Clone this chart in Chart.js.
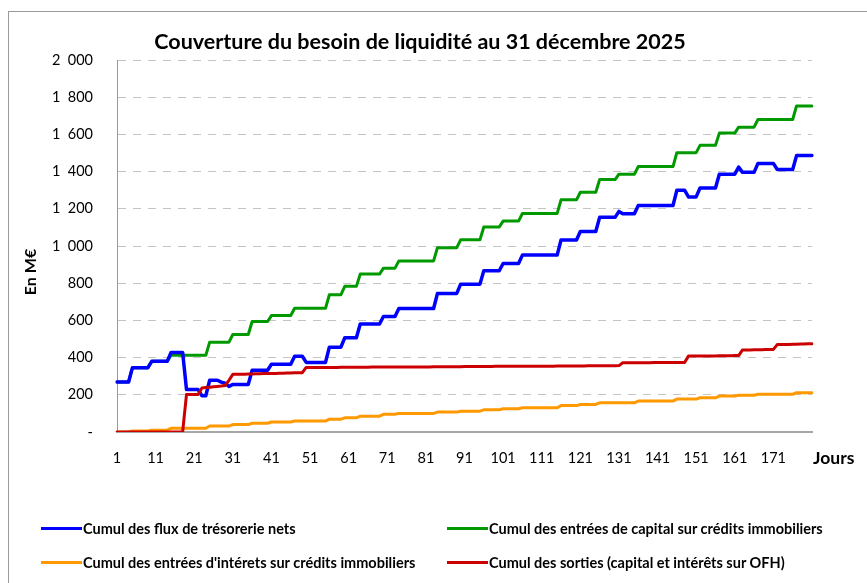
<!DOCTYPE html>
<html>
<head>
<meta charset="utf-8">
<script src="https://cdn.jsdelivr.net/npm/chart.js@4.4.1/dist/chart.umd.min.js"></script>
<style>
  html, body { margin: 0; padding: 0; background: #fff; }
  #wrap { position: relative; width: 867px; height: 583px; }
  #legend { position: absolute; left: 0; top: 0; width: 867px; height: 583px; pointer-events: none;
            font: bold 14.5px Lato, sans-serif; color: #000; }
  .item { position: absolute; height: 20px; display: flex; align-items: center; white-space: nowrap; }
  .swatch { display: inline-block; width: 41px; height: 3px; margin-right: 1px; }
</style>
</head>
<body>
<div id="wrap">
  <canvas id="lineChart" width="867" height="583"></canvas>
  <div id="legend"></div>
</div>
<script>
// jours 1..181
const days = Array.from({ length: 181 }, (_, i) => i + 1);
const shownDays = [1, 11, 21, 31, 41, 51, 61, 71, 81, 91, 101, 111, 121, 131, 141, 151, 161, 171];

const seriesNames = [
  'Cumul des flux de trésorerie nets',
  'Cumul des entrées de capital sur crédits immobiliers',
  "Cumul des entrées d'intérets sur crédits immobiliers",
  'Cumul des sorties (capital et intérêts sur OFH)'
];
const seriesColors = ['#0000ff', '#009900', '#ff9900', '#cc0000'];

// valeurs (M€), un point par jour
const fluxNets = [
  269,269,269,269,346,346,346,346,346,380,
  380,380,380,380,428,428,428,428,228,228,
  228,228,195,195,278,278,278,268,262,245,
  256,256,256,256,256,332,332,332,332,332,
  364,364,364,364,364,364,407,407,407,374,
  374,374,374,374,374,456,456,456,456,507,
  507,507,507,581,581,581,581,581,581,621,
  621,621,621,664,664,664,664,664,664,664,
  664,664,664,745,745,745,745,745,745,795,
  795,795,795,795,795,867,867,867,867,867,
  906,906,906,906,906,951,951,951,951,951,
  951,951,951,951,951,1032,1032,1032,1032,1032,
  1078,1078,1078,1078,1078,1154,1154,1154,1154,1154,
  1186,1173,1173,1173,1173,1218,1218,1218,1218,1218,
  1218,1218,1218,1218,1218,1300,1300,1300,1264,1264,
  1264,1312,1312,1312,1312,1312,1386,1386,1386,1386,
  1386,1424,1396,1396,1396,1396,1444,1444,1444,1444,
  1444,1411,1411,1411,1411,1411,1486,1486,1486,1486,
  1486
];
const entreesCapital = [
  269,269,269,269,346,346,346,346,346,380,
  380,380,380,380,412,412,412,412,412,412,
  412,412,412,412,483,483,483,483,483,483,
  524,524,524,524,524,594,594,594,594,594,
  626,626,626,626,626,626,665,665,665,665,
  665,665,665,665,665,738,738,738,738,783,
  783,783,783,849,849,849,849,849,849,881,
  881,881,881,920,920,920,920,920,920,920,
  920,920,920,991,991,991,991,991,991,1033,
  1033,1033,1033,1033,1033,1102,1102,1102,1102,1102,
  1134,1134,1134,1134,1134,1175,1175,1175,1175,1175,
  1175,1175,1175,1175,1175,1248,1248,1248,1248,1248,
  1289,1289,1289,1289,1289,1357,1357,1357,1357,1357,
  1386,1386,1386,1386,1386,1427,1427,1427,1427,1427,
  1427,1427,1427,1427,1427,1502,1502,1502,1502,1502,
  1502,1541,1541,1541,1541,1541,1607,1607,1607,1607,
  1607,1639,1639,1639,1639,1639,1680,1680,1680,1680,
  1680,1680,1680,1680,1680,1680,1753,1753,1753,1753,
  1753
];
const entreesInterets = [
  0,0,0,0,5,5,5,5,5,10,
  10,10,10,10,20,20,20,20,20,20,
  20,20,20,20,32,32,32,32,32,32,
  40,40,40,40,40,47,47,47,47,47,
  54,54,54,54,54,54,59,59,59,59,
  59,59,59,59,59,69,69,69,69,76,
  76,76,76,85,85,85,85,85,85,95,
  95,95,95,100,100,100,100,100,100,100,
  100,100,100,107,107,107,107,107,107,112,
  112,112,112,112,112,119,119,119,119,119,
  125,125,125,125,125,130,130,130,130,130,
  130,130,130,130,130,142,142,142,142,142,
  148,148,148,148,148,157,157,157,157,157,
  157,157,157,157,157,166,166,166,166,166,
  166,166,166,166,166,177,177,177,177,177,
  177,184,184,184,184,184,193,193,193,193,
  193,198,198,198,198,198,203,203,203,203,
  203,203,203,203,203,203,211,211,211,211,
  211
];
const sorties = [
  0,0,0,0,0,0,0,0,0,0,
  0,0,0,0,0,0,0,0,202,202,
  202,202,237,239,241,243,245,247,250,278,
  310,310,311,311,312,312,313,313,314,314,
  315,315,316,316,317,317,318,318,319,347,
  347,347,347,347,347,347,347,347,348,348,
  348,348,348,348,348,348,349,349,349,349,
  349,349,349,349,350,350,350,350,350,350,
  350,350,351,351,351,351,351,351,351,351,
  352,352,352,352,352,352,352,352,353,353,
  353,353,353,353,353,353,354,354,354,354,
  354,354,354,354,355,355,355,355,355,355,
  355,355,356,356,356,356,356,356,356,356,
  357,372,372,372,372,372,372,372,372,373,
  373,373,373,373,373,373,373,374,408,408,
  408,408,409,409,409,409,410,410,410,410,
  411,411,441,441,441,442,442,442,443,443,
  444,470,470,471,471,472,472,473,473,474,
  474
];

const seriesValues = [fluxNets, entreesCapital, entreesInterets, sorties];
const seriesWidths = [3.5, 3, 3, 3];
const seriesOrder = [1, 2, 3, 0];

function fmtMillions(v) {
  if (v === 0) return '-';
  if (v >= 1000) return Math.floor(v / 1000) + '\u2002' + String(v % 1000).padStart(3, '0');
  return String(v);
}

const chartFrame = {
  id: 'chartFrame',
  beforeDraw(chart) {
    const ctx = chart.ctx;
    ctx.save();
    ctx.fillStyle = '#fff';
    ctx.fillRect(0, 0, chart.width, chart.height);
    ctx.strokeStyle = '#9a9a9a';
    ctx.lineWidth = 1;
    ctx.strokeRect(8.5, 11.5, 1000, 1000);
    ctx.restore();
  },
  afterDraw(chart) {
    const ctx = chart.ctx;
    const area = chart.chartArea;
    ctx.save();
    ctx.fillStyle = '#000';
    ctx.textBaseline = 'middle';
    // titre de l'axe des x, à droite des étiquettes
    ctx.font = 'bold 17.5px Lato, sans-serif';
    ctx.textAlign = 'left';
    ctx.fillText('Jours', area.right + 1, area.bottom + 26);
    // titre de l'axe des y
    ctx.font = 'bold 16px Lato, sans-serif';
    ctx.textAlign = 'center';
    ctx.translate(31, 272);
    ctx.rotate(-Math.PI / 2);
    ctx.fillText('En M€', 0, 0);
    ctx.restore();
  }
};

const lineChart = document.getElementById('lineChart');

const configLine = {
  type: 'line',
  data: {
    labels: days,
    datasets: seriesNames.map((name, i) => ({
      label: name,
      data: seriesValues[i],
      borderColor: seriesColors[i],
      backgroundColor: seriesColors[i],
      borderWidth: seriesWidths[i],
      order: seriesOrder[i],
      pointRadius: 0,
      tension: 0,
      borderJoinStyle: 'round',
      borderCapStyle: 'round',
      fill: false
    }))
  },
  options: {
    responsive: false,
    animation: false,
    events: [],
    layout: { padding: { left: 0, right: 27, top: 0, bottom: 111 } },
    plugins: {
      legend: { display: false },
      tooltip: { enabled: false },
      title: {
        display: true,
        text: 'Couverture du besoin de liquidité au 31 décembre 2025',
        color: '#000',
        font: { family: 'Lato, sans-serif', size: 21.5, weight: 'bold' },
        padding: { top: 29, bottom: 5.2 }
      }
    },
    scales: {
      x: {
        type: 'category',
        grid: { display: false, drawTicks: false },
        border: { display: true, color: '#a6a6a6', width: 2 },
        ticks: {
          autoSkip: false,
          maxRotation: 0,
          padding: 18,
          color: '#000',
          font: { family: 'Lato, sans-serif', size: 14.5 },
          callback(value, index) {
            const d = days[index];
            return shownDays.includes(d) ? String(d) : '';
          }
        },
        afterFit(scale) { scale.height = 40; }
      },
      y: {
        min: 0,
        max: 2000,
        grid: {
          drawTicks: false,
          lineWidth: 1,
          color: (c) => (c.tick && c.tick.value === 0 ? 'rgba(0,0,0,0)' : '#c4c4c4')
        },
        border: { display: true, color: '#999', width: 1, dash: [8, 7] },
        ticks: {
          stepSize: 200,
          padding: 24,
          color: '#000',
          font: { family: 'Lato, sans-serif', size: 14.5 },
          callback: (v) => fmtMillions(v)
        },
        afterFit(scale) { scale.width = 117; }
      },
      yRight: {
        type: 'linear',
        position: 'right',
        display: true,
        grid: { display: false, drawTicks: false },
        border: { display: false },
        ticks: { display: false },
        afterFit(scale) { scale.width = 28; }
      }
    }
  },
  plugins: [chartFrame]
};

new Chart(lineChart, configLine);

// légende sur deux colonnes, comme dans l'original
const legendBox = document.getElementById('legend');
const legendSlots = [
  { left: 41, top: 518 },
  { left: 447, top: 518 },
  { left: 41, top: 552 },
  { left: 447, top: 552 }
];
seriesNames.forEach((name, i) => {
  const item = document.createElement('div');
  item.className = 'item';
  item.style.left = legendSlots[i].left + 'px';
  item.style.top = legendSlots[i].top + 'px';
  const sw = document.createElement('span');
  sw.className = 'swatch';
  sw.style.background = seriesColors[i];
  const txt = document.createElement('span');
  txt.textContent = name;
  item.appendChild(sw);
  item.appendChild(txt);
  legendBox.appendChild(item);
});
</script>
</body>
</html>
